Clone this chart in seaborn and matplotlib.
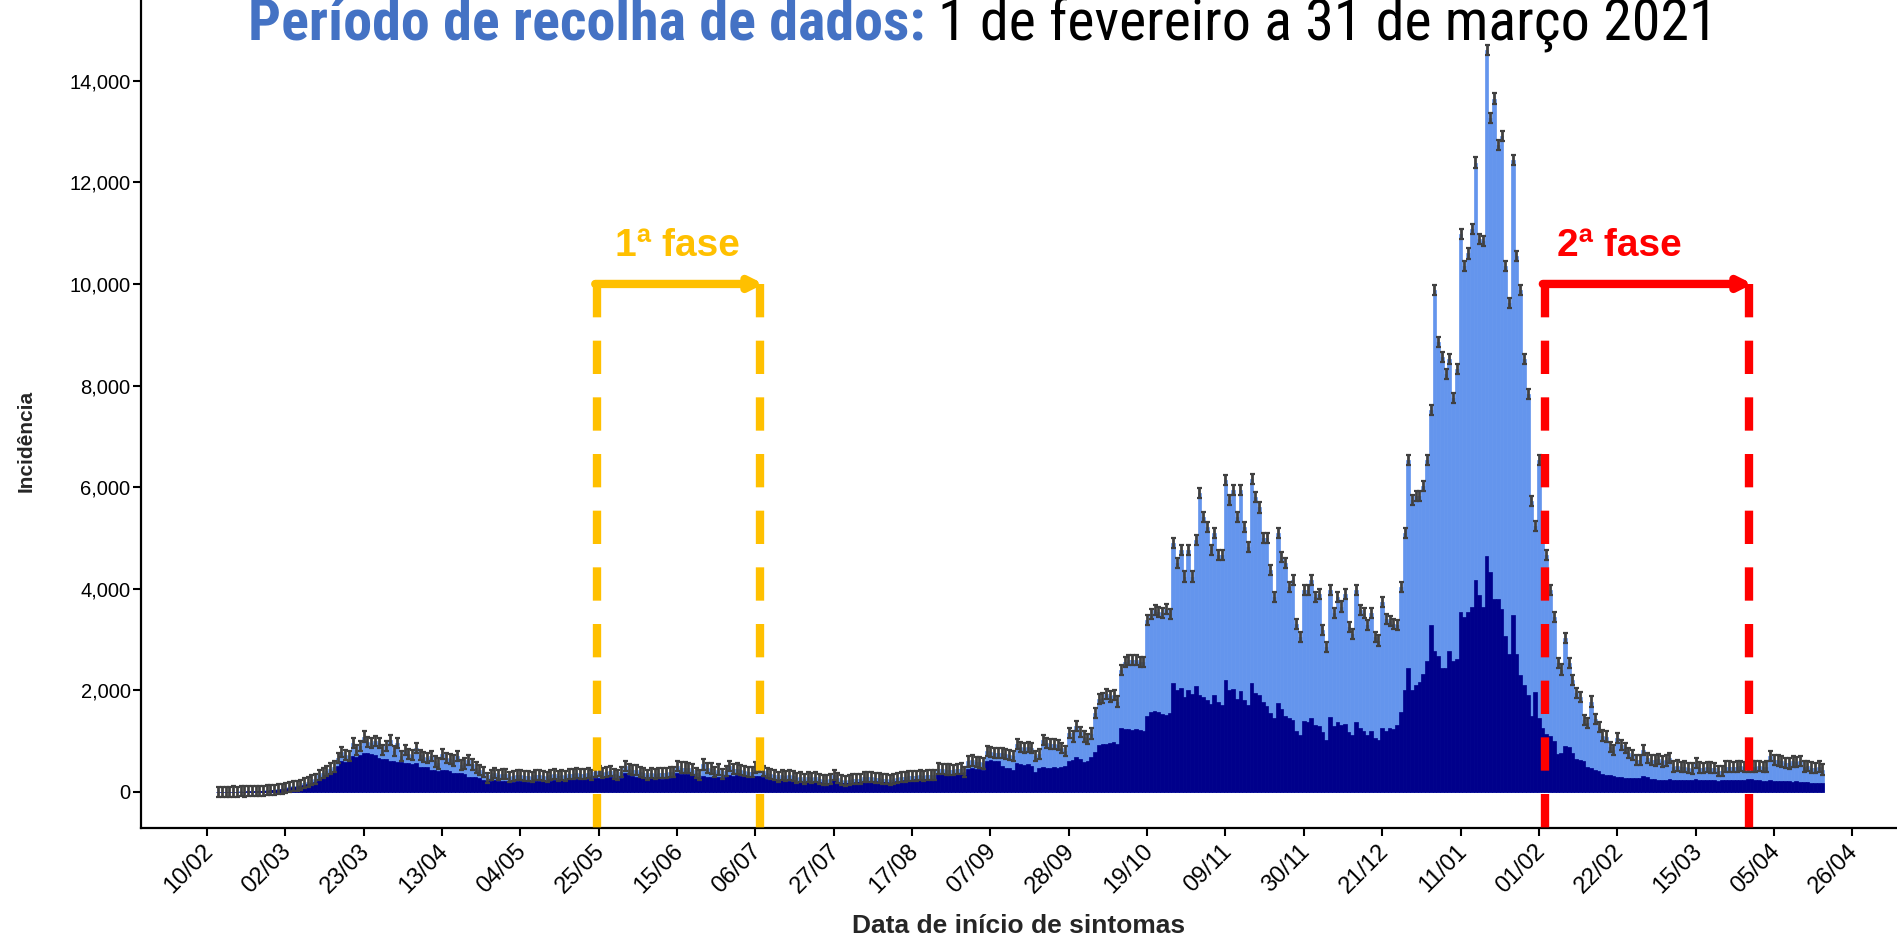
import matplotlib
matplotlib.use('Agg')
import matplotlib.pyplot as plt
import matplotlib.dates as mdates
import matplotlib.transforms as mtransforms
from matplotlib import font_manager as fm
import seaborn as sns
import pandas as pd

# daily incidence by symptom onset, first day 13/02/2020 (one value per day, one week per row)
START = '2020-02-13'
total = [
    5, 3, 6, 4, 8, 6, 10,
    8, 12, 10, 14, 12, 25, 30,
    40, 45, 55, 60, 80, 95, 110,
    120, 140, 170, 190, 230, 250, 330,
    370, 420, 460, 500, 660, 790, 720,
    700, 960, 830, 900, 1090, 990, 960,
    1000, 960, 830, 900, 1030, 800, 960,
    700, 830, 740, 730, 860, 730, 680,
    660, 700, 600, 560, 740, 660, 640,
    620, 700, 530, 560, 630, 540, 480,
    430, 400, 280, 340, 370, 330, 360,
    350, 300, 310, 340, 330, 310, 320,
    290, 330, 340, 320, 300, 330, 350,
    320, 340, 310, 350, 360, 380, 360,
    350, 370, 330, 400, 410, 380, 400,
    420, 350, 330, 400, 510, 450, 430,
    430, 400, 380, 330, 380, 360, 380,
    370, 370, 390, 400, 510, 480, 480,
    470, 440, 370, 340, 540, 470, 460,
    400, 440, 350, 420, 510, 450, 460,
    430, 420, 400, 390, 480, 490, 420,
    370, 360, 330, 300, 335, 320, 330,
    310, 280, 300, 250, 300, 280, 290,
    260, 240, 230, 250, 330, 270, 240,
    220, 240, 250, 260, 260, 290, 300,
    290, 280, 270, 250, 260, 240, 250,
    280, 290, 300, 310, 320, 310, 330,
    320, 330, 340, 330, 460, 450, 440,
    440, 430, 450, 460, 400, 600, 620,
    590, 580, 560, 800, 780, 770, 760,
    760, 750, 720, 700, 950, 880, 870,
    880, 860, 700, 740, 1020, 960, 940,
    950, 920, 860, 810, 1160, 1090, 1290,
    1180, 1090, 1050, 1150, 1550, 1830, 1850,
    1920, 1880, 1900, 1780, 2400, 2560, 2600,
    2600, 2600, 2560, 2560, 3380, 3500, 3580,
    3540, 3520, 3600, 3500, 4900, 4500, 4760,
    4240, 4760, 4240, 4960, 5880, 5420, 5220,
    4760, 5090, 4660, 4660, 6140, 5750, 5950,
    5420, 5950, 5220, 4820, 6160, 5800, 5600,
    5000, 5000, 4370, 3840, 5090, 4630, 4500,
    4040, 4170, 3310, 3050, 3980, 3980, 4170,
    3840, 3900, 3180, 2850, 3980, 3520, 3840,
    3650, 3900, 3250, 3110, 3980, 3580, 3520,
    3280, 3520, 3050, 2980, 3740, 3410, 3370,
    3310, 3280, 4040, 5090, 6540, 5750, 5820,
    5820, 6020, 6540, 7520, 9880, 8860, 8570,
    8230, 8520, 7750, 8330, 10990, 10360, 10600,
    11080, 12390, 10890, 10850, 14610, 13260, 13650,
    12730, 12920, 10360, 9630, 12440, 10550, 9880,
    8520, 7840, 5720, 5240, 6540, 5400, 4660,
    3980, 3450, 2540, 2410, 3030, 2540, 2200,
    1940, 1870, 1410, 1350, 1780, 1440, 1280,
    1110, 1090, 890, 830, 1060, 930, 860,
    760, 730, 630, 630, 830, 660, 630,
    620, 640, 600, 620, 660, 500, 520,
    490, 500, 470, 460, 570, 480, 470,
    490, 480, 470, 410, 410, 500, 500,
    490, 500, 510, 490, 500, 500, 500,
    510, 490, 500, 700, 630, 620, 600,
    570, 560, 600, 590, 610, 500, 510,
    480, 470, 500, 440,
]
navy = [
    4, 2, 5, 3, 6, 5, 8,
    6, 10, 8, 11, 10, 20, 24,
    32, 36, 44, 48, 64, 76, 88,
    96, 112, 140, 155, 185, 200, 260,
    300, 340, 370, 400, 520, 600, 580,
    600, 700, 680, 720, 760, 760, 740,
    720, 660, 640, 650, 600, 600, 590,
    580, 560, 560, 550, 560, 500, 500,
    490, 430, 430, 420, 430, 430, 420,
    370, 370, 370, 360, 300, 300, 290,
    280, 230, 220, 220, 230, 220, 210,
    220, 210, 200, 210, 220, 210, 200,
    210, 220, 220, 210, 200, 220, 230,
    240, 250, 240, 260, 250, 260, 250,
    250, 260, 240, 270, 280, 280, 290,
    300, 270, 260, 280, 380, 330, 310,
    300, 290, 280, 250, 270, 260, 270,
    260, 280, 280, 290, 370, 360, 360,
    350, 340, 290, 280, 310, 300, 300,
    290, 300, 280, 300, 330, 320, 330,
    320, 310, 300, 300, 310, 320, 300,
    260, 250, 240, 230, 230, 220, 220,
    210, 200, 210, 190, 210, 200, 200,
    190, 180, 170, 180, 230, 200, 180,
    170, 180, 180, 190, 190, 210, 220,
    210, 210, 200, 190, 190, 180, 190,
    210, 220, 230, 240, 240, 250, 250,
    250, 260, 260, 260, 360, 360, 350,
    360, 350, 360, 370, 340, 460, 470,
    460, 450, 440, 600, 620, 610, 600,
    510, 480, 470, 440, 560, 540, 530,
    550, 520, 400, 470, 490, 470, 480,
    490, 470, 490, 520, 600, 620, 680,
    640, 590, 600, 680, 790, 920, 940,
    950, 960, 990, 950, 1250, 1240, 1240,
    1220, 1230, 1220, 1200, 1500, 1580, 1590,
    1570, 1540, 1520, 1560, 2140, 2000, 2040,
    1870, 2000, 1920, 2090, 1910, 1870, 1800,
    1740, 1900, 1780, 1720, 2200, 2000, 2020,
    1830, 1990, 1800, 1720, 2140, 1950, 1900,
    1780, 1700, 1560, 1450, 1750, 1640, 1500,
    1450, 1420, 1200, 1130, 1400, 1380, 1450,
    1310, 1290, 1180, 1020, 1480, 1300, 1380,
    1310, 1330, 1180, 1130, 1380, 1250, 1200,
    1130, 1200, 1060, 1020, 1260, 1200, 1260,
    1240, 1320, 1580, 2000, 2430, 2000, 2100,
    2170, 2330, 2570, 3290, 2770, 2670, 2430,
    2430, 2770, 2570, 2620, 3540, 3450, 3540,
    3640, 4170, 3880, 3640, 4650, 4320, 3790,
    3790, 3600, 3060, 2720, 3490, 2720, 2300,
    2100, 1900, 1500, 1970, 1450, 1250, 1150,
    1100, 1000, 740, 760, 900, 880, 760,
    640, 620, 600, 500, 470, 440, 420,
    350, 340, 330, 320, 300, 290, 280,
    280, 270, 270, 280, 320, 300, 250,
    250, 240, 240, 240, 250, 240, 240,
    230, 240, 230, 230, 250, 240, 230,
    240, 230, 230, 220, 230, 230, 230,
    230, 230, 230, 230, 250, 250, 230,
    230, 220, 220, 230, 220, 220, 210,
    210, 210, 200, 210, 200, 200, 200,
    180, 180, 180, 170,
]
err = 100  # half-width of the grey interval on top of each bar

tick_dates = pd.date_range('2020-02-10', '2021-04-26', freq='21D')
phase1 = ['2020-05-24 16:00', '2020-07-07 06:00']
phase2 = ['2021-02-02 16:00', '2021-03-29 08:00']
phase_top = 10000
labels_at = ['2020-05-29 06:00', '2021-02-05 22:00']

LIGHT = '#6495ED'
DARK = '#00008B'
YELLOW = '#FFC000'
RED = '#FF0000'

assert len(total) == len(navy)


def available(name):
    try:
        fm.findfont(fm.FontProperties(family=name), fallback_to_default=False)
        return True
    except ValueError:
        return False


sns.set_theme(style='ticks')
plt.rcParams['font.family'] = ['Liberation Sans', 'DejaVu Sans']

dates = pd.date_range(START, periods=len(total), freq='D')
df = pd.DataFrame({'x': mdates.date2num(dates), 'total': total, 'navy': navy})

fig = plt.figure(figsize=(18.97, 9.36), dpi=100)
ax = fig.add_axes([0.0743, 0.1154, 0.9257, 0.8846])

sns.barplot(data=df, x='x', y='total', native_scale=True, width=1, color=LIGHT,
            saturation=1, errorbar=None, linewidth=0.5, edgecolor=LIGHT, ax=ax)
sns.barplot(data=df, x='x', y='navy', native_scale=True, width=1, color=DARK,
            saturation=1, errorbar=None, linewidth=0.5, edgecolor=DARK, ax=ax)
ax.errorbar(df['x'], df['total'], yerr=err, fmt='none', ecolor='#404040',
            elinewidth=2.0, capsize=1.8, capthick=1.6, zorder=3)

# phases
dash = (0, (4, 2.8))
for (a, b), col, lab, lx in [(phase1, YELLOW, '1ª fase', labels_at[0]),
                             (phase2, RED, '2ª fase', labels_at[1])]:
    xa, xb = mdates.date2num(pd.to_datetime([a, b]))
    for xv in (xa, xb):
        ax.plot([xv, xv], [phase_top, -710], color=col, lw=6, ls=dash,
                dash_capstyle='butt', zorder=4)
    ax.annotate('', xy=(xb + 1.0, phase_top), xytext=(xa - 0.6, phase_top),
                arrowprops=dict(arrowstyle='-|>', color=col, lw=6,
                                mutation_scale=18, shrinkA=0, shrinkB=0),
                zorder=5)
    ax.text(mdates.date2num(pd.Timestamp(lx)), 10550, lab, color=col,
            fontsize=28, fontweight='bold', ha='left', va='baseline', zorder=5)

ax.set_xlim(mdates.date2num(pd.Timestamp('2020-01-23 07:00')),
            mdates.date2num(pd.Timestamp('2021-05-08')))
ax.set_ylim(-710, 15590)
ax.set_xticks(mdates.date2num(tick_dates))
ax.set_xticklabels([d.strftime('%d/%m') for d in tick_dates], rotation=45,
                   ha='right', rotation_mode='anchor')
ax.set_yticks(range(0, 14001, 2000))
ax.set_yticklabels([f'{v:,}' for v in range(0, 14001, 2000)])
ax.tick_params(axis='both', length=6, width=1.5, color='black',
               labelcolor='black')
ax.tick_params(axis='y', pad=1.5, labelsize=14.5)
ax.tick_params(axis='x', pad=3, labelsize=17)
shift = mtransforms.ScaledTranslation(-0.05, 0, fig.dpi_scale_trans)
for lbl in ax.get_xticklabels():
    lbl.set_transform(lbl.get_transform() + shift)
for s in ('left', 'bottom'):
    ax.spines[s].set_linewidth(1.6)
    ax.spines[s].set_color('black')
sns.despine(ax=ax)

ax.set_xlabel('Data de início de sintomas', fontsize=19, fontweight='bold')
ax.xaxis.set_label_coords(0.5, -0.104)
ax.set_ylabel('Incidência', fontsize=15, fontweight='bold')
ax.yaxis.set_label_coords(-0.060, 0.467)

# title (cut by the top border in the reference), fitted to its width
tfont = [f for f in ['Liberation Sans Narrow', 'Noto Sans Condensed',
                     'DejaVu Sans Condensed', 'Roboto Condensed']
         if available(f)] + ['Liberation Sans']
tx0, tx1, tbase = 248, 1718, 1 - 40 / 936
size = 38
t1 = fig.text(tx0 / 1897, tbase, 'Período de recolha de dados:',
              color='#4472C4', fontsize=size, fontweight='bold', family=tfont,
              va='baseline', ha='left')
t2 = fig.text(0, tbase, '1 de fevereiro a 31 de março 2021', color='black',
              fontsize=size, family=tfont, va='baseline', ha='left')
for _ in range(3):
    fig.canvas.draw()
    bb1 = t1.get_window_extent()
    t2.set_x((bb1.x1 + 0.3 * size) / fig.bbox.width)
    fig.canvas.draw()
    width = t2.get_window_extent().x1 - bb1.x0
    size = size * (tx1 - tx0) / width
    t1.set_fontsize(size)
    t2.set_fontsize(size)
fig.canvas.draw()
t2.set_x((t1.get_window_extent().x1 + 0.3 * size) / fig.bbox.width)

fig.savefig('out.png', dpi=100)
